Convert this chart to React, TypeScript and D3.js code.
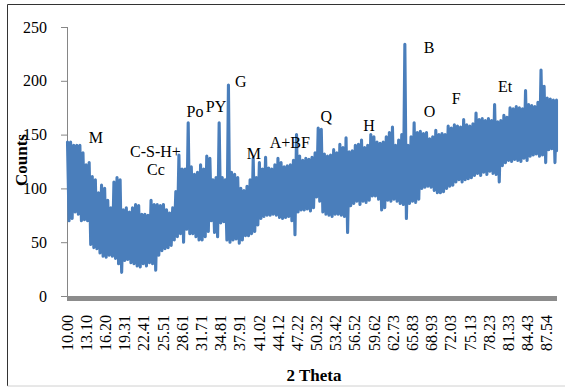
import { useMemo } from "react";
import * as d3 from "d3";

// XRD pattern, 2-theta from 10 to 89 deg, read at 0.5 deg steps.
// Each step gives the top and the bottom of the noisy band.
const thetaStart = 10;
const thetaStep = 0.5;

const hiCounts = [
  143, 143, 140, 140, 140, 133, 122, 124, 111, 108, 96, 103, 100, 89, 82, 106, 110, 108, 80, 82,
  78, 82, 85, 84, 76, 76, 75, 89, 85, 85, 84, 85, 80, 77, 82, 97, 131, 118, 118, 161,
  120, 113, 115, 122, 118, 130, 128, 108, 110, 161, 110, 108, 196, 115, 113, 110, 100, 98, 102, 108,
  128, 110, 124, 118, 129, 119, 118, 122, 128, 124, 120, 121, 122, 126, 150, 130, 126, 128, 127, 129,
  133, 156, 155, 132, 130, 131, 136, 133, 141, 138, 147, 134, 135, 140, 141, 145, 138, 140, 150, 148,
  143, 142, 143, 148, 152, 157, 140, 145, 150, 234, 140, 148, 161, 152, 153, 151, 152, 146, 148, 154,
  150, 151, 150, 158, 156, 159, 158, 157, 164, 159, 158, 160, 170, 164, 165, 163, 165, 163, 178, 162,
  163, 168, 166, 175, 174, 176, 175, 174, 191, 178, 177, 176, 180, 210, 195, 184, 183, 182, 182,
];

const loCounts = [
  70, 72, 78, 76, 70, 71, 70, 48, 45, 44, 40, 37, 36, 38, 37, 35, 30, 22, 33, 34,
  31, 30, 28, 27, 30, 28, 31, 30, 24, 38, 42, 44, 45, 47, 52, 55, 58, 50, 62, 58,
  58, 55, 52, 52, 55, 60, 70, 59, 55, 68, 69, 52, 50, 52, 53, 49, 52, 56, 56, 58,
  60, 66, 72, 74, 75, 75, 76, 75, 73, 72, 73, 74, 70, 57, 78, 80, 80, 81, 79, 82,
  92, 88, 78, 76, 75, 74, 76, 76, 75, 74, 59, 84, 86, 88, 85, 88, 87, 89, 93, 93,
  90, 80, 82, 89, 88, 90, 88, 86, 85, 72, 86, 88, 87, 90, 100, 101, 102, 101, 98, 96,
  96, 97, 100, 102, 103, 106, 108, 106, 108, 109, 110, 112, 114, 112, 115, 113, 116, 114, 113, 106,
  121, 124, 126, 125, 127, 126, 125, 128, 126, 130, 131, 132, 130, 131, 124, 136, 137, 124, 135,
];

const xTickLabels = [
  "10.00", "13.10", "16.20", "19.31", "22.41", "25.51", "28.61", "31.71", "34.81", "37.91",
  "41.02", "44.12", "47.22", "50.32", "53.42", "56.52", "59.62", "62.73", "65.83", "68.93",
  "72.03", "75.13", "78.23", "81.33", "84.43", "87.54",
];
const yTicks = [0, 50, 100, 150, 200, 250];

const peakLabels = ["M", "C-S-H+", "Cc", "Po", "PY", "G", "M", "A+BF", "Q", "H", "B", "O", "F", "Et"];
const peakTheta = [14.6, 24.2, 24.3, 30.6, 34.0, 38.0, 40.1, 45.9, 51.8, 58.7, 68.4, 68.5, 72.8, 80.7];
const peakCount = [142, 129, 112, 166, 171, 194, 127, 138, 162, 153, 226, 166, 178, 190];

const W = 565;
const H = 387;
const serif = "'Liberation Serif', 'Times New Roman', serif";

export default function App() {
  const x = d3.scaleLinear().domain([10, 89]).range([67.5, 556.5]);
  const y = d3.scaleLinear().domain([0, 250]).range([296, 27]);

  const path = useMemo(() => {
    const pts: [number, number][] = [];
    hiCounts.forEach((hi, i) => {
      const t = thetaStart + i * thetaStep;
      pts.push([t, hi]);
      if (loCounts[i] !== undefined) pts.push([Math.min(t + thetaStep / 2, 89), loCounts[i]]);
    });
    return d3
      .line<[number, number]>()
      .x((d) => x(d[0]))
      .y((d) => y(d[1]))(pts);
  }, []);

  return (
    <div style={{ position: "fixed", left: 0, top: 0 }}>
      <svg width={W} height={H} style={{ display: "block", background: "#fff" }}>
        {/* frame */}
        <line x1={7.5} y1={4.5} x2={W} y2={4.5} stroke="#333" strokeWidth={1} />
        <line x1={7.5} y1={4.5} x2={7.5} y2={386} stroke="#333" strokeWidth={1} />
        <line x1={7.5} y1={386} x2={W} y2={386} stroke="#d0d0d0" strokeWidth={1} />

        {/* y axis */}
        <line x1={67.5} x2={67.5} y1={y(250)} y2={y(0)} stroke="#868686" />
        {yTicks.map((t) => (
          <g key={t}>
            <line x1={61} x2={67.5} y1={y(t) + 0.5} y2={y(t) + 0.5} stroke="#868686" />
            <text
              x={47}
              y={y(t)}
              dy="0.35em"
              textAnchor="end"
              fontFamily={serif}
              fontSize={16}
              fill="#000"
            >
              {t}
            </text>
          </g>
        ))}

        {/* x axis bar */}
        <rect x={67} y={296} width={490} height={5} fill="#8c8c8c" />
        {xTickLabels.map((l) => (
          <text
            key={l}
            transform={`translate(${x(+l) + 5},315) rotate(-90)`}
            textAnchor="end"
            fontFamily={serif}
            fontSize={16}
            fill="#000"
          >
            {l}
          </text>
        ))}

        {/* data */}
        <path
          d={path || ""}
          fill="none"
          stroke="#4a7ebb"
          strokeWidth={3.1}
          strokeLinejoin="round"
          strokeLinecap="round"
        />

        {/* peak labels */}
        {peakLabels.map((l, i) => (
          <text
            key={i}
            x={x(peakTheta[i])}
            y={y(peakCount[i])}
            textAnchor="middle"
            fontFamily={serif}
            fontSize={16}
            fill="#000"
          >
            {l}
          </text>
        ))}

        {/* axis titles */}
        <text
          transform="translate(27,160) rotate(-90)"
          textAnchor="middle"
          fontFamily={serif}
          fontSize={17}
          fontWeight="bold"
          fill="#000"
        >
          Counts
        </text>
        <text
          x={314}
          y={381}
          textAnchor="middle"
          fontFamily={serif}
          fontSize={17}
          fontWeight="bold"
          fill="#000"
        >
          2 Theta
        </text>
      </svg>
    </div>
  );
}
